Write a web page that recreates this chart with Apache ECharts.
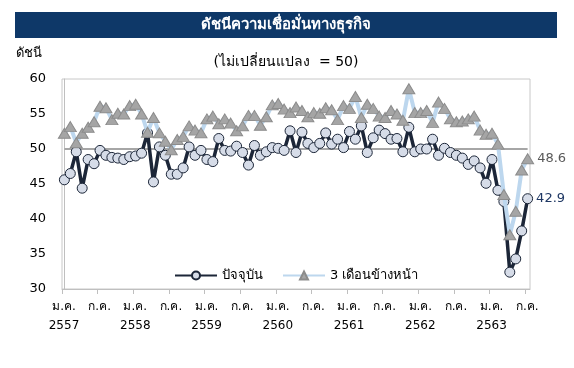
<!DOCTYPE html>
<html><head><meta charset="utf-8">
<script src="https://cdn.jsdelivr.net/npm/echarts@6/dist/echarts.min.js"></script>
<style>html,body{margin:0;padding:0;background:#fff}#c{width:574px;height:368px}</style>
</head><body><div id="c"></div>
<script>
// Monthly data, ม.ค. 2557 .. ก.ค. 2563
var years = ['2557','2558','2559','2560','2561','2562','2563'];
var halfLabels = ['ม.ค.','ก.ค.'];
var current = [45.6,46.5,49.6,44.4,48.5,47.9,49.8,49.1,48.8,48.7,
  48.5,48.9,49.0,49.4,52.3,45.3,50.3,49.1,46.4,46.4,
  47.3,50.3,49.1,49.8,48.5,48.2,51.5,49.8,49.7,50.4,
  49.5,47.7,50.5,49.1,49.6,50.2,50.1,49.8,52.6,49.5,
  52.4,50.8,50.2,50.8,52.3,50.7,51.4,50.2,52.5,51.4,
  53.3,49.5,51.6,52.7,52.2,51.4,51.5,49.6,53.1,49.6,
  50.0,50.0,51.4,49.1,50.1,49.5,49.1,48.7,47.8,48.3,
  47.3,45.1,48.5,44.1,42.5,32.4,34.3,38.3,42.9];
var ahead = [52.25,53.2,50.9,52.25,53.1,53.9,56.1,55.9,54.2,55.1,
  55.0,56.2,56.4,55.0,52.4,54.5,52.3,51.1,49.9,51.35,
  51.8,53.3,52.7,52.3,54.3,54.7,53.6,54.3,53.7,52.6,
  53.3,54.8,54.8,53.4,54.6,56.3,56.5,55.7,55.2,56.0,
  55.5,54.6,55.2,55.1,55.9,55.6,54.2,56.2,55.8,57.5,
  54.5,56.4,55.8,54.7,54.5,55.5,55.0,54.1,58.6,55.2,
  55.2,55.5,53.8,56.7,55.8,54.3,53.9,54.0,54.3,54.7,
  52.7,52.1,52.25,50.7,43.5,37.75,41.1,47.0,48.6];
var seriesNames = ['ปัจจุบัน','3 เดือนข้างหน้า'];
var baseline = 50;

var FONT = "Tahoma, 'DejaVu Sans', 'Noto Sans', sans-serif";
function pts(arr, labelColor){
  return arr.map(function(v,i){
    var p = {value:[i,v]};
    if(i===arr.length-1){
      p.label = {show:true, position:'right', distance:3, color:labelColor, fontSize:13, fontFamily:FONT,
        formatter:function(o){return o.value[1].toFixed(1);}};
    }
    return p;
  });
}
var chart = echarts.init(document.getElementById('c'), null, {renderer:'canvas'});
chart.setOption({
  animation:false,
  textStyle:{fontFamily:FONT},
  graphic:[
    {type:'rect', shape:{x:15,y:12,width:542,height:26}, style:{fill:'#0E3868'}},
    {type:'text', x:286, y:25, style:{text:'ดัชนีความเชื่อมั่นทางธุรกิจ', fill:'#fff', font:'bold 15px '+FONT, align:'center', verticalAlign:'middle'}},
    {type:'text', x:16, y:54, style:{text:'ดัชนี', fill:'#000', font:'13px '+FONT, align:'left', verticalAlign:'middle'}},
    {type:'text', x:286, y:62, style:{text:'(ไม่เปลี่ยนแปลง  = 50)', fill:'#000', font:'14px '+FONT, align:'center', verticalAlign:'middle'}}
  ],
  grid:{left:62, right:44, top:79, bottom:79, show:true, borderColor:'#C8C8C8', borderWidth:1},
  legend:{left:169, top:264, itemWidth:42, itemHeight:10, itemGap:19,
    textStyle:{fontSize:13, color:'#000', fontFamily:FONT},
    data:seriesNames},
  xAxis:[
    {type:'value', min:-0.4, max:78.4, show:false},
    {type:'value', min:0, max:78.8, interval:6, position:'bottom',
      axisLine:{show:true, lineStyle:{color:'#BFBFBF'}},
      axisTick:{show:true, length:5, inside:false, lineStyle:{color:'#BFBFBF'}},
      splitLine:{show:false},
      axisLabel:{margin:8, fontSize:12, lineHeight:19, color:'#000', fontFamily:FONT, padding:[0,0,0,4],
        showMinLabel:true, showMaxLabel:false,
        formatter:function(v){
          var k = Math.round(v/6);
          if(k%2===0){ return halfLabels[0]+'\n'+(years[k/2]||''); }
          return halfLabels[1];
        }}
    }
  ],
  yAxis:{type:'value', min:30, max:60, interval:5,
    axisLine:{show:true, lineStyle:{color:'#BFBFBF'}},
    axisTick:{show:false}, splitLine:{show:false},
    axisLabel:{fontSize:13, color:'#000', margin:16, fontFamily:FONT}},
  series:[
    {name:seriesNames[0], type:'line', xAxisIndex:0, data:pts(current,'#1F3864'),
      symbol:'circle', symbolSize:10, z:3,
      lineStyle:{color:'#1C2638', width:3.5},
      itemStyle:{color:'#D6DCE8', borderColor:'#1C2638', borderWidth:1},
      markLine:{silent:true, symbol:'none', z:1, label:{show:false},
        lineStyle:{color:'#A6A6A6', width:2, type:'solid'},
        data:[[{coord:[0,baseline]},{coord:[current.length-1,baseline]}]]}
    },
    {name:seriesNames[1], type:'line', xAxisIndex:0, data:pts(ahead,'#595959'),
      symbol:'triangle', symbolSize:[12,10], z:4,
      lineStyle:{color:'#BDD7EE', width:4},
      itemStyle:{color:'#A5A5A5', borderColor:'#8C8C8C', borderWidth:1}
    }
  ]
});
</script></body></html>
